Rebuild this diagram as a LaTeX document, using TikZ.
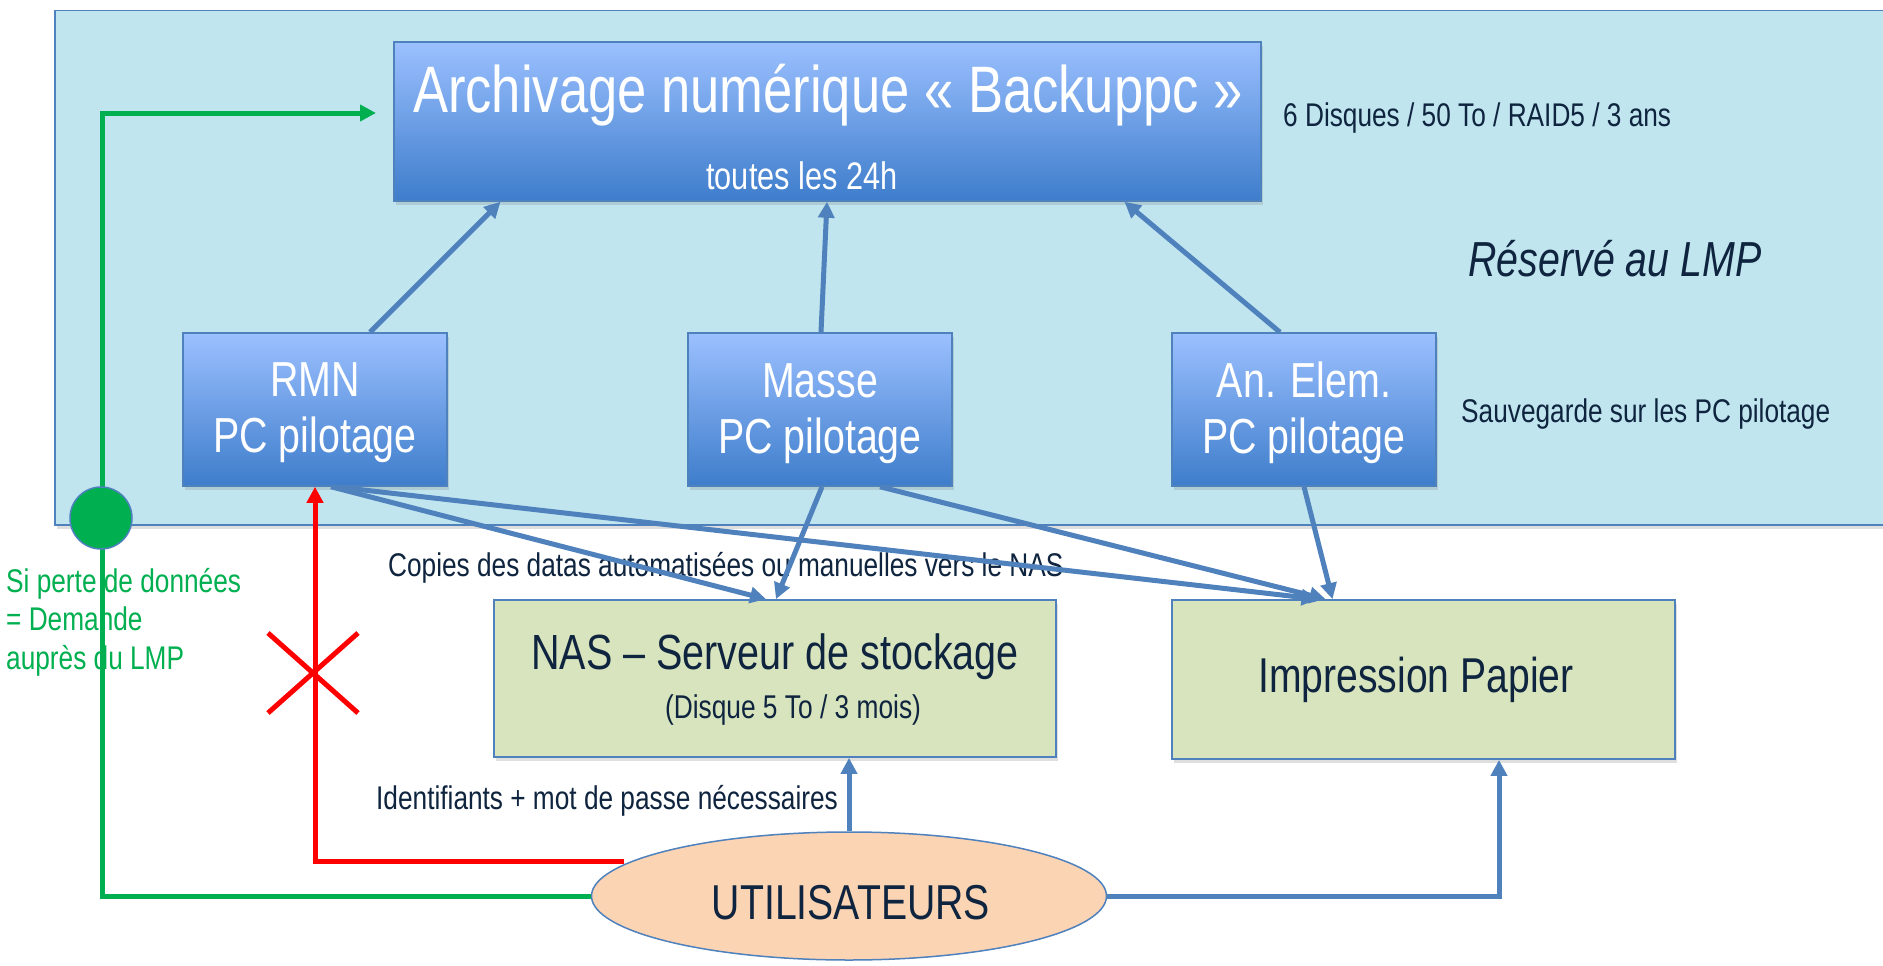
\documentclass[tikz,border=0pt]{standalone}
\usepackage{fontspec}
\setmainfont{Liberation Sans}[FakeStretch=0.8]
\usetikzlibrary{arrows.meta,shadows,shapes.geometric}
\definecolor{bgblue}{RGB}{192,229,239}
\definecolor{lineblue}{RGB}{79,129,189}
\definecolor{topblue}{RGB}{155,192,255}
\definecolor{botblue}{RGB}{62,125,203}
\definecolor{greenbox}{RGB}{215,228,189}
\definecolor{peach}{RGB}{251,212,180}
\definecolor{navy}{RGB}{15,36,62}
\definecolor{mygreen}{RGB}{0,176,80}
\newcommand{\fsz}[1]{\fontsize{#1}{#1}\selectfont}
\tikzset{
  shad/.style={drop shadow={opacity=0.25,shadow xshift=2pt,shadow yshift=-4pt}},
  bluebox/.style={draw=lineblue,line width=1.5pt,top color=topblue,bottom color=botblue,shad,inner sep=0pt},
  greenrect/.style={draw=lineblue,line width=1.8pt,fill=greenbox,shad,inner sep=0pt},
  whitetxt/.style={text=white,inner sep=0pt,anchor=base},
  navytxt/.style={text=navy,inner sep=0pt,anchor=base},
  barrow/.style={draw=lineblue,line width=5pt,-{Triangle[length=16pt,width=16pt]}},
  gline/.style={draw=mygreen,line width=5pt},
  rline/.style={draw=red,line width=5pt},
}
\begin{document}
\begin{tikzpicture}[x=1pt,y=-1pt]
\useasboundingbox (0,0) rectangle (1883,966);
\fill[white] (0,0) rectangle (1883,966);
% LMP area
\node[draw=lineblue,line width=1.5pt,fill=bgblue,shad,minimum width=1860pt,minimum height=514pt,anchor=north west,inner sep=0pt] (lmp) at (54,10) {};
% boxes
\node[bluebox,minimum width=867pt,minimum height=159pt] (arch) at (827.5,121.5) {};
\node[bluebox,minimum width=264pt,minimum height=153pt] (rmn) at (315,409.5) {};
\node[bluebox,minimum width=264pt,minimum height=153pt] (masse) at (820,409.5) {};
\node[bluebox,minimum width=264pt,minimum height=153pt] (anelem) at (1304,409.5) {};
\node[greenrect,minimum width=562pt,minimum height=157pt] (nas) at (775,678.5) {};
\node[greenrect,minimum width=503pt,minimum height=159pt] (impr) at (1423.5,679.5) {};
% texts
\node[whitetxt,font=\fsz{65.7}] (archt) at (828,113) {Archivage numérique « Backuppc »};
\node[whitetxt,font=\fsz{38.4}] (archs) at (802,189) {toutes les 24h};
\node[navytxt,font=\fsz{32.8},anchor=base west] (disq) at (1283,126) {6 Disques / 50 To / RAID5 / 3 ans};
\node[navytxt,font=\fsz{49.2}\itshape] (resv) at (1615,276) {Réservé au LMP};
\node[navytxt,font=\fsz{32.8},anchor=base west] (sauv) at (1461,422) {Sauvegarde sur les PC pilotage};
\node[whitetxt,font=\fsz{49.2}] (rmn1) at (315,396) {RMN};
\node[whitetxt,font=\fsz{49.2}] (rmn2) at (315,452) {PC pilotage};
\node[whitetxt,font=\fsz{49.2}] (mas1) at (820,397) {Masse};
\node[whitetxt,font=\fsz{49.2}] (mas2) at (820,453) {PC pilotage};
\node[whitetxt,font=\fsz{49.2}] (ane1) at (1304,397) {An. Elem.};
\node[whitetxt,font=\fsz{49.2}] (ane2) at (1304,453) {PC pilotage};
\node[navytxt,font=\fsz{49.4}] (nast) at (775,669) {NAS – Serveur de stockage};
\node[navytxt,font=\fsz{32.9}] (nass) at (793,718) {(Disque 5 To / 3 mois)};
\node[navytxt,font=\fsz{48.9}] (imprt) at (1416,692) {Impression Papier};
\node[navytxt,font=\fsz{32.8},anchor=base west] (copies) at (388,576) {Copies des datas automatisées ou manuelles vers le NAS};
\node[navytxt,font=\fsz{32.8},anchor=base west] (ident) at (376,809) {Identifiants + mot de passe nécessaires};
\node[text=mygreen,font=\fsz{32.8},anchor=base west,inner sep=0pt] (g1) at (6,592) {Si perte de données};
\node[text=mygreen,font=\fsz{32.8},anchor=base west,inner sep=0pt] (g2) at (6,630) {= Demande};
\node[text=mygreen,font=\fsz{32.8},anchor=base west,inner sep=0pt] (g3) at (6,669) {auprès du LMP};
% users
\node[ellipse,draw=lineblue,line width=1.5pt,fill=peach,minimum width=515pt,minimum height=128pt,inner sep=0pt] (util) at (849,896) {};
\node[navytxt,font=\fsz{49}] (utilt) at (851,919) {UTILISATEURS};
% coordinates
\coordinate (gtop) at (102,113);
\coordinate (gend) at (376,113);
\coordinate (rstart) at (624,861);
\coordinate (ibot) at ([xshift=75.5pt]impr.south);
% top arrows
\draw[barrow] ([xshift=55pt]rmn.north) -- ([xshift=-327pt]arch.south);
\draw[barrow] ([xshift=1pt]masse.north) -- ([xshift=-0.5pt]arch.south);
\draw[barrow] ([xshift=-24pt]anelem.north) -- ([xshift=297pt]arch.south);
% lower arrows
\draw[barrow] ([xshift=16pt]rmn.south) -- ([xshift=-9pt]nas.north);
\draw[barrow] ([xshift=20pt]rmn.south) -- ([xshift=-106pt]impr.north);
\draw[barrow] ([xshift=2pt]masse.south) -- ([xshift=1pt]nas.north);
\draw[barrow] ([xshift=60pt]masse.south) -- ([xshift=-98pt]impr.north);
\draw[barrow] (anelem.south) -- ([xshift=-91pt]impr.north);
\draw[barrow] (util.north) -- (util.north |- nas.south);
\draw[barrow] (util.east) -| (ibot);
% green path
\draw[gline,-{Triangle[length=16pt,width=16pt]}] (util.west) -| (gtop) -- (gend);
\node[circle,fill=mygreen,draw=lineblue,line width=1.5pt,minimum size=62pt,inner sep=0pt] (dot) at (101,518) {};
% red path
\draw[rline,-{Triangle[length=16pt,width=16pt]}] (rstart) -| (rmn.south);
\draw[rline] (268,633) -- (358,713);
\draw[rline] (358,633) -- (268,713);
\end{tikzpicture}
\end{document}
